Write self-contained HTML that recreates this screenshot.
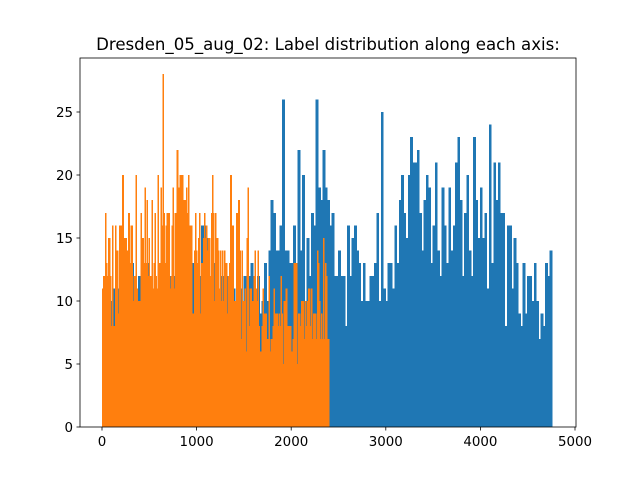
<!DOCTYPE html>
<html><head><meta charset="utf-8"><style>
body{margin:0;background:#fff;}
svg{display:block;font-family:"DejaVu Sans","Liberation Sans",sans-serif;}
</style></head><body>
<svg id="chart" width="640" height="480" viewBox="0 0 640 480">
<rect width="640" height="480" fill="#fff"/>
<text x="328" y="50" text-anchor="middle" font-size="16.6">Dresden_05_aug_02: Label distribution along each axis:</text>
<g id="bars" shape-rendering="crispEdges"></g>
<rect x="80" y="58" width="496" height="369" fill="none" stroke="#000" stroke-width="0.8"/>
<g id="ticks"></g>
</svg>
<script>
const blueRange = [0, 4755];
const orangeRange = [0, 2400];
const blueCounts = [7,12,11,12,10,11,12,11,9,12,11,12,10,13,12,11,12,10,12,11,13,12,11,12,10,12,11,13,12,11,12,12,11,13,12,11,12,10,12,11,13,14,10,12,16,16,12,15,12,11,13,12,11,12,10,12,11,12,11,9,12,11,10,12,11,12,13,12,11,12,
9,10,13,10,14,18,17,14,14,16,26,14,14,13,13,16,13,22,14,20,10,15,12,17,16,26,19,18,22,19,18,16,17,12,12,14,12,12,8,16,12,15,16,14,13,10,13,10,10,12,12,13,17,10,25,11,10,13,13,11,16,13,
18,20,17,15,20,23,21,21,22,17,14,18,20,19,13,16,21,14,12,19,16,13,19,14,16,21,23,18,12,17,20,14,12,23,18,15,19,15,17,11,24,13,21,18,21,17,17,8,16,16,11,15,13,9,8,13,9,12,12,10,13,10,7,9,8,13,12,14];
const orangeCounts = [11,12,12,17,13,12,15,15,12,8,16,8,8,16,14,14,9,16,13,16,20,14,15,15,12,14,17,13,16,16,10,12,12,20,11,10,10,10,17,15,15,13,19,13,18,12,15,12,12,18,11,13,17,12,11,20,13,13,19,16,28,17,13,16,17,17,17,11,12,16,19,11,17,17,22,12,19,20,14,20,17,18,18,19,17,20,16,16,16,9,9,14,17,14,13,15,17,9,13,13,15,17,15,16,14,15,15,12,17,20,17,
10,17,15,15,14,11,14,10,14,10,14,13,13,9,12,13,20,9,16,8,10,10,17,12,18,14,7,14,10,10,11,6,15,19,8,11,11,10,10,12,14,11,10,14,8,6,6,8,11,9,9,9,7,7,12,6,7,7,8,11,9,9,9,8,9,8,12,9,5,10,10,11,8,8,8,8,6,5,7,13,7,13,5,9,9,8,10,10,10,7,10,8,10,11,11,8,11,7,9,9,9,7,14,13,10,7,9,7,15,7,13,12,7,7];
const xTicks = [0,1000,2000,3000,4000,5000];
const yTicks = [0,5,10,15,20,25];

const NS = "http://www.w3.org/2000/svg";
function xs(v){ return 102 + v * 0.0946; }
function ys(v){ return 427 - v * 12.6; }
const bars = document.getElementById('bars');
function drawHist(counts, range, color, name){
  const w = (range[1]-range[0]) / counts.length;
  counts.forEach((c,i)=>{
    const x0 = xs(range[0]+i*w), x1 = xs(range[0]+(i+1)*w);
    const r = document.createElementNS(NS,'rect');
    r.setAttribute('x', x0); r.setAttribute('width', x1-x0+0.6);
    r.setAttribute('y', ys(c)); r.setAttribute('height', ys(0)-ys(c));
    r.setAttribute('fill', color);
    
    
    bars.appendChild(r);
  });
}
drawHist(blueCounts, blueRange, '#1f77b4', 'blue-bar');
drawHist(orangeCounts, orangeRange, '#ff7f0e', 'orange-bar');
const tg = document.getElementById('ticks');
xTicks.forEach(t=>{
  const l = document.createElementNS(NS,'line');
  l.setAttribute('x1', xs(t)); l.setAttribute('x2', xs(t)); l.setAttribute('y1', 427); l.setAttribute('y2', 430.5);
  l.setAttribute('stroke', '#000'); l.setAttribute('stroke-width', '0.8');
  
  
  tg.appendChild(l);
  const tx = document.createElementNS(NS,'text');
  tx.setAttribute('x', xs(t)); tx.setAttribute('y', 446); tx.setAttribute('text-anchor','middle'); tx.setAttribute('font-size','13.4');
  tx.textContent = t;
  
  
  tg.appendChild(tx);
});
yTicks.forEach(t=>{
  const l = document.createElementNS(NS,'line');
  l.setAttribute('x1', 76.5); l.setAttribute('x2', 80); l.setAttribute('y1', ys(t)); l.setAttribute('y2', ys(t));
  l.setAttribute('stroke', '#000'); l.setAttribute('stroke-width', '0.8');
  
  
  tg.appendChild(l);
  const tx = document.createElementNS(NS,'text');
  tx.setAttribute('x', 73); tx.setAttribute('y', ys(t)+4.8); tx.setAttribute('text-anchor','end'); tx.setAttribute('font-size','13.4');
  tx.textContent = t;
  
  
  tg.appendChild(tx);
});
</script>
</body></html>
